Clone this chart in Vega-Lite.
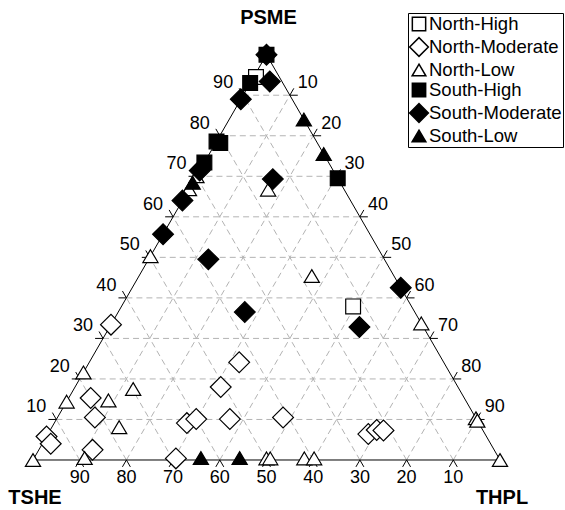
{
  "$schema": "https://vega.github.io/schema/vega-lite/v6.json",
  "width": 565,
  "height": 510,
  "autosize": {"type": "none"},
  "padding": 0,
  "background": "white",
  "config": {"view": {"stroke": null}, "font": "Liberation Sans"},
  "datasets": {
    "grid": [
      {"p1":10,"t1":0,"p2":10,"t2":90},{"p1":20,"t1":0,"p2":20,"t2":80},{"p1":30,"t1":0,"p2":30,"t2":70},
      {"p1":40,"t1":0,"p2":40,"t2":60},{"p1":50,"t1":0,"p2":50,"t2":50},{"p1":60,"t1":0,"p2":60,"t2":40},
      {"p1":70,"t1":0,"p2":70,"t2":30},{"p1":80,"t1":0,"p2":80,"t2":20},{"p1":90,"t1":0,"p2":90,"t2":10},
      {"p1":0,"t1":10,"p2":90,"t2":10},{"p1":0,"t1":20,"p2":80,"t2":20},{"p1":0,"t1":30,"p2":70,"t2":30},
      {"p1":0,"t1":40,"p2":60,"t2":40},{"p1":0,"t1":50,"p2":50,"t2":50},{"p1":0,"t1":60,"p2":40,"t2":60},
      {"p1":0,"t1":70,"p2":30,"t2":70},{"p1":0,"t1":80,"p2":20,"t2":80},{"p1":0,"t1":90,"p2":10,"t2":90},
      {"p1":0,"t1":90,"p2":90,"t2":0},{"p1":0,"t1":80,"p2":80,"t2":0},{"p1":0,"t1":70,"p2":70,"t2":0},
      {"p1":0,"t1":60,"p2":60,"t2":0},{"p1":0,"t1":50,"p2":50,"t2":0},{"p1":0,"t1":40,"p2":40,"t2":0},
      {"p1":0,"t1":30,"p2":30,"t2":0},{"p1":0,"t1":20,"p2":20,"t2":0},{"p1":0,"t1":10,"p2":10,"t2":0}
    ],
    "frame": [
      {"p1":0,"t1":0,"p2":0,"t2":100},{"p1":0,"t1":0,"p2":100,"t2":0},{"p1":0,"t1":100,"p2":100,"t2":0},
      {"p1":10,"t1":0,"p2":10,"t2":-1.7},{"p1":10,"t1":0,"p2":11.7,"t2":-1.7},
      {"p1":20,"t1":0,"p2":20,"t2":-1.7},{"p1":20,"t1":0,"p2":21.7,"t2":-1.7},
      {"p1":30,"t1":0,"p2":30,"t2":-1.7},{"p1":30,"t1":0,"p2":31.7,"t2":-1.7},
      {"p1":40,"t1":0,"p2":40,"t2":-1.7},{"p1":40,"t1":0,"p2":41.7,"t2":-1.7},
      {"p1":50,"t1":0,"p2":50,"t2":-1.7},{"p1":50,"t1":0,"p2":51.7,"t2":-1.7},
      {"p1":60,"t1":0,"p2":60,"t2":-1.7},{"p1":60,"t1":0,"p2":61.7,"t2":-1.7},
      {"p1":70,"t1":0,"p2":70,"t2":-1.7},{"p1":70,"t1":0,"p2":71.7,"t2":-1.7},
      {"p1":80,"t1":0,"p2":80,"t2":-1.7},{"p1":80,"t1":0,"p2":81.7,"t2":-1.7},
      {"p1":90,"t1":0,"p2":90,"t2":-1.7},{"p1":90,"t1":0,"p2":91.7,"t2":-1.7},
      {"p1":90,"t1":10,"p2":90,"t2":11.7},{"p1":90,"t1":10,"p2":91.7,"t2":10},
      {"p1":80,"t1":20,"p2":80,"t2":21.7},{"p1":80,"t1":20,"p2":81.7,"t2":20},
      {"p1":70,"t1":30,"p2":70,"t2":31.7},{"p1":70,"t1":30,"p2":71.7,"t2":30},
      {"p1":60,"t1":40,"p2":60,"t2":41.7},{"p1":60,"t1":40,"p2":61.7,"t2":40},
      {"p1":50,"t1":50,"p2":50,"t2":51.7},{"p1":50,"t1":50,"p2":51.7,"t2":50},
      {"p1":40,"t1":60,"p2":40,"t2":61.7},{"p1":40,"t1":60,"p2":41.7,"t2":60},
      {"p1":30,"t1":70,"p2":30,"t2":71.7},{"p1":30,"t1":70,"p2":31.7,"t2":70},
      {"p1":20,"t1":80,"p2":20,"t2":81.7},{"p1":20,"t1":80,"p2":21.7,"t2":80},
      {"p1":10,"t1":90,"p2":10,"t2":91.7},{"p1":10,"t1":90,"p2":11.7,"t2":90},
      {"p1":0,"t1":90,"p2":-1.7,"t2":90},{"p1":0,"t1":90,"p2":-1.7,"t2":91.7},
      {"p1":0,"t1":80,"p2":-1.7,"t2":80},{"p1":0,"t1":80,"p2":-1.7,"t2":81.7},
      {"p1":0,"t1":70,"p2":-1.7,"t2":70},{"p1":0,"t1":70,"p2":-1.7,"t2":71.7},
      {"p1":0,"t1":60,"p2":-1.7,"t2":60},{"p1":0,"t1":60,"p2":-1.7,"t2":61.7},
      {"p1":0,"t1":50,"p2":-1.7,"t2":50},{"p1":0,"t1":50,"p2":-1.7,"t2":51.7},
      {"p1":0,"t1":40,"p2":-1.7,"t2":40},{"p1":0,"t1":40,"p2":-1.7,"t2":41.7},
      {"p1":0,"t1":30,"p2":-1.7,"t2":30},{"p1":0,"t1":30,"p2":-1.7,"t2":31.7},
      {"p1":0,"t1":20,"p2":-1.7,"t2":20},{"p1":0,"t1":20,"p2":-1.7,"t2":21.7},
      {"p1":0,"t1":10,"p2":-1.7,"t2":10},{"p1":0,"t1":10,"p2":-1.7,"t2":11.7}
    ],
    "labLeft": [
      {"p":10,"t":0,"label":"10"},{"p":20,"t":0,"label":"20"},{"p":30,"t":0,"label":"30"},
      {"p":40,"t":0,"label":"40"},{"p":50,"t":0,"label":"50"},{"p":60,"t":0,"label":"60"},
      {"p":70,"t":0,"label":"70"},{"p":80,"t":0,"label":"80"},{"p":90,"t":0,"label":"90"}
    ],
    "labRight": [
      {"p":90,"t":10,"label":"10"},{"p":80,"t":20,"label":"20"},{"p":70,"t":30,"label":"30"},
      {"p":60,"t":40,"label":"40"},{"p":50,"t":50,"label":"50"},{"p":40,"t":60,"label":"60"},
      {"p":30,"t":70,"label":"70"},{"p":20,"t":80,"label":"80"},{"p":10,"t":90,"label":"90"}
    ],
    "labBottom": [
      {"p":0,"t":90,"label":"10"},{"p":0,"t":80,"label":"20"},{"p":0,"t":70,"label":"30"},
      {"p":0,"t":60,"label":"40"},{"p":0,"t":50,"label":"50"},{"p":0,"t":40,"label":"60"},
      {"p":0,"t":30,"label":"70"},{"p":0,"t":20,"label":"80"},{"p":0,"t":10,"label":"90"}
    ],
    "titleTop": [{"p":100,"t":0,"label":"PSME"}],
    "titleBottom": [{"p":0,"t":0,"label":"TSHE"},{"p":0,"t":100,"label":"THPL"}],
    "pts": [
      {"group":"North-High","psme":94.5,"thpl":0.5,"tshe":5},
      {"group":"North-High","psme":37.9,"thpl":49.6,"tshe":12.5},
      {"group":"North-Moderate","psme":33.4,"thpl":0,"tshe":66.6},
      {"group":"North-Moderate","psme":15.3,"thpl":4.7,"tshe":80},
      {"group":"North-Moderate","psme":10.5,"thpl":8,"tshe":81.5},
      {"group":"North-Moderate","psme":5.8,"thpl":0,"tshe":94.2},
      {"group":"North-Moderate","psme":4,"thpl":1.8,"tshe":94.2},
      {"group":"North-Moderate","psme":2.5,"thpl":11.5,"tshe":86},
      {"group":"North-Moderate","psme":24.1,"thpl":32.1,"tshe":43.8},
      {"group":"North-Moderate","psme":18,"thpl":31.2,"tshe":50.8},
      {"group":"North-Moderate","psme":9.1,"thpl":28.4,"tshe":62.5},
      {"group":"North-Moderate","psme":10.1,"thpl":29.9,"tshe":60},
      {"group":"North-Moderate","psme":10.1,"thpl":37.1,"tshe":52.8},
      {"group":"North-Moderate","psme":10.5,"thpl":48.3,"tshe":41.2},
      {"group":"North-Moderate","psme":0.4,"thpl":30.4,"tshe":69.2},
      {"group":"North-Moderate","psme":6.4,"thpl":68.6,"tshe":25},
      {"group":"North-Moderate","psme":7.4,"thpl":69.9,"tshe":22.7},
      {"group":"North-Moderate","psme":7.3,"thpl":71.4,"tshe":21.3},
      {"group":"North-Low","psme":70,"thpl":0,"tshe":30},
      {"group":"North-Low","psme":66.8,"thpl":0,"tshe":33.2},
      {"group":"North-Low","psme":66.7,"thpl":17,"tshe":16.3},
      {"group":"North-Low","psme":50.3,"thpl":0,"tshe":49.7},
      {"group":"North-Low","psme":45.4,"thpl":37,"tshe":17.6},
      {"group":"North-Low","psme":33.7,"thpl":66.3,"tshe":0},
      {"group":"North-Low","psme":21.6,"thpl":0,"tshe":78.4},
      {"group":"North-Low","psme":17.5,"thpl":12.7,"tshe":69.8},
      {"group":"North-Low","psme":14.7,"thpl":8.8,"tshe":76.5},
      {"group":"North-Low","psme":14.4,"thpl":0,"tshe":85.6},
      {"group":"North-Low","psme":8.1,"thpl":14.4,"tshe":77.5},
      {"group":"North-Low","psme":0,"thpl":0,"tshe":100},
      {"group":"North-Low","psme":0.5,"thpl":10.8,"tshe":88.7},
      {"group":"North-Low","psme":0.4,"thpl":49.8,"tshe":49.8},
      {"group":"North-Low","psme":0.4,"thpl":50.6,"tshe":49},
      {"group":"North-Low","psme":0.4,"thpl":57.9,"tshe":41.7},
      {"group":"North-Low","psme":0.4,"thpl":60,"tshe":39.6},
      {"group":"North-Low","psme":10.3,"thpl":89.7,"tshe":0},
      {"group":"North-Low","psme":9.7,"thpl":90.3,"tshe":0},
      {"group":"North-Low","psme":0,"thpl":100,"tshe":0},
      {"group":"South-High","psme":100,"thpl":0,"tshe":0},
      {"group":"South-High","psme":93,"thpl":0,"tshe":7},
      {"group":"South-High","psme":78.6,"thpl":0,"tshe":21.4},
      {"group":"South-High","psme":78.2,"thpl":1,"tshe":20.8},
      {"group":"South-High","psme":73.4,"thpl":0,"tshe":26.6},
      {"group":"South-High","psme":69.5,"thpl":30.5,"tshe":0},
      {"group":"South-Moderate","psme":100,"thpl":0,"tshe":0},
      {"group":"South-Moderate","psme":93.4,"thpl":4,"tshe":2.6},
      {"group":"South-Moderate","psme":89,"thpl":0,"tshe":11},
      {"group":"South-Moderate","psme":71.4,"thpl":0,"tshe":28.6},
      {"group":"South-Moderate","psme":64,"thpl":0,"tshe":36},
      {"group":"South-Moderate","psme":55.7,"thpl":0,"tshe":44.3},
      {"group":"South-Moderate","psme":69.3,"thpl":16.7,"tshe":14},
      {"group":"South-Moderate","psme":49.5,"thpl":12.8,"tshe":37.7},
      {"group":"South-Moderate","psme":36.5,"thpl":27.1,"tshe":36.4},
      {"group":"South-Moderate","psme":42.5,"thpl":57.5,"tshe":0},
      {"group":"South-Moderate","psme":32.8,"thpl":53.5,"tshe":13.7},
      {"group":"South-Low","psme":84,"thpl":16,"tshe":0},
      {"group":"South-Low","psme":75.5,"thpl":24.5,"tshe":0},
      {"group":"South-Low","psme":68.4,"thpl":0,"tshe":31.6},
      {"group":"South-Low","psme":0.5,"thpl":35.7,"tshe":63.8},
      {"group":"South-Low","psme":0.5,"thpl":44,"tshe":55.5}
    ]
  },
  "layer": [
    {
      "data": {"name": "grid"},
      "transform": [
        {"calculate": "datum.t1 + datum.p1 / 2", "as": "xa"},
        {"calculate": "datum.p1 * 0.8660254", "as": "ya"},
        {"calculate": "datum.t2 + datum.p2 / 2", "as": "xb"},
        {"calculate": "datum.p2 * 0.8660254", "as": "yb"}
      ],
      "mark": {"type": "rule", "stroke": "#b3b3b3", "strokeWidth": 1, "strokeDash": [6, 4]},
      "encoding": {
        "x": {"field": "xa", "type": "quantitative", "scale": {"domain": [-7.066, 113.92], "zero": false, "nice": false}, "axis": null},
        "y": {"field": "ya", "type": "quantitative", "scale": {"domain": [-10.684, 98.29], "zero": false, "nice": false}, "axis": null},
        "x2": {"field": "xb"},
        "y2": {"field": "yb"}
      }
    },
    {
      "data": {"name": "frame"},
      "transform": [
        {"calculate": "datum.t1 + datum.p1 / 2", "as": "xa"},
        {"calculate": "datum.p1 * 0.8660254", "as": "ya"},
        {"calculate": "datum.t2 + datum.p2 / 2", "as": "xb"},
        {"calculate": "datum.p2 * 0.8660254", "as": "yb"}
      ],
      "mark": {"type": "rule", "stroke": "black", "strokeWidth": 1},
      "encoding": {
        "x": {"field": "xa", "type": "quantitative", "scale": {"domain": [-7.066, 113.92], "zero": false, "nice": false}, "axis": null},
        "y": {"field": "ya", "type": "quantitative", "scale": {"domain": [-10.684, 98.29], "zero": false, "nice": false}, "axis": null},
        "x2": {"field": "xb"},
        "y2": {"field": "yb"}
      }
    },
    {
      "data": {"name": "labLeft"},
      "transform": [
        {"calculate": "datum.t + datum.p / 2", "as": "x"},
        {"calculate": "datum.p * 0.8660254", "as": "y"}
      ],
      "mark": {"type": "text", "align": "right", "baseline": "middle", "dx": -10, "dy": -12, "fontSize": 18, "font": "Liberation Sans", "color": "black"},
      "encoding": {
        "x": {"field": "x", "type": "quantitative", "axis": null},
        "y": {"field": "y", "type": "quantitative", "axis": null},
        "text": {"field": "label"}
      }
    },
    {
      "data": {"name": "labRight"},
      "transform": [
        {"calculate": "datum.t + datum.p / 2", "as": "x"},
        {"calculate": "datum.p * 0.8660254", "as": "y"}
      ],
      "mark": {"type": "text", "align": "left", "baseline": "middle", "dx": 8, "dy": -12, "fontSize": 18, "font": "Liberation Sans", "color": "black"},
      "encoding": {
        "x": {"field": "x", "type": "quantitative", "axis": null},
        "y": {"field": "y", "type": "quantitative", "axis": null},
        "text": {"field": "label"}
      }
    },
    {
      "data": {"name": "labBottom"},
      "transform": [
        {"calculate": "datum.t + datum.p / 2", "as": "x"},
        {"calculate": "datum.p * 0.8660254", "as": "y"}
      ],
      "mark": {"type": "text", "align": "center", "baseline": "middle", "dy": 18, "fontSize": 18, "font": "Liberation Sans", "color": "black"},
      "encoding": {
        "x": {"field": "x", "type": "quantitative", "axis": null},
        "y": {"field": "y", "type": "quantitative", "axis": null},
        "text": {"field": "label"}
      }
    },
    {
      "data": {"name": "titleTop"},
      "transform": [
        {"calculate": "datum.t + datum.p / 2", "as": "x"},
        {"calculate": "datum.p * 0.8660254", "as": "y"}
      ],
      "mark": {"type": "text", "align": "center", "baseline": "middle", "dx": 2, "dy": -37, "fontSize": 20, "fontWeight": "bold", "font": "Liberation Sans", "color": "black"},
      "encoding": {
        "x": {"field": "x", "type": "quantitative", "axis": null},
        "y": {"field": "y", "type": "quantitative", "axis": null},
        "text": {"field": "label"}
      }
    },
    {
      "data": {"name": "titleBottom"},
      "transform": [
        {"calculate": "datum.t + datum.p / 2", "as": "x"},
        {"calculate": "datum.p * 0.8660254", "as": "y"}
      ],
      "mark": {"type": "text", "align": "center", "baseline": "middle", "dx": 2, "dy": 38, "fontSize": 20, "fontWeight": "bold", "font": "Liberation Sans", "color": "black"},
      "encoding": {
        "x": {"field": "x", "type": "quantitative", "axis": null},
        "y": {"field": "y", "type": "quantitative", "axis": null},
        "text": {"field": "label"}
      }
    },
    {
      "data": {"name": "pts"},
      "transform": [
        {"calculate": "datum.thpl + datum.psme / 2", "as": "x"},
        {"calculate": "datum.psme * 0.8660254", "as": "y"}
      ],
      "mark": {"type": "point", "filled": true, "stroke": "black", "strokeWidth": 1.2, "opacity": 1, "size": 400},
      "encoding": {
        "x": {"field": "x", "type": "quantitative", "axis": null},
        "y": {"field": "y", "type": "quantitative", "axis": null},
        "shape": {
          "field": "group", "type": "nominal",
          "scale": {"domain": ["North-High","North-Moderate","North-Low","South-High","South-Moderate","South-Low"],
                    "range": ["M-0.74,-0.74L0.74,-0.74L0.74,0.74L-0.74,0.74Z","M-1.04,0L0,-1.04L1.04,0L0,1.04Z","M0,-0.64L0.76,0.64L-0.76,0.64Z","M-0.74,-0.74L0.74,-0.74L0.74,0.74L-0.74,0.74Z","M-1.04,0L0,-1.04L1.04,0L0,1.04Z","M0,-0.64L0.76,0.64L-0.76,0.64Z"]},
          "legend": {
            "title": null, "orient": "none", "legendX": 408, "legendY": 13,
            "strokeColor": "black", "fillColor": "white", "padding": 1,
            "labelFont": "Liberation Sans", "labelFontSize": 18.5, "labelColor": "black", "labelOffset": 0,
            "symbolSize": 324, "symbolStrokeWidth": 1.5, "rowPadding": 0,
            "encode": {"symbols": {"update": {
              "fill": {"signal": "indexof(datum.value, 'South') === 0 ? '#4d0f4d' : '#ffffff'"},
              "stroke": {"value": "#4d0f4d"},
              "size": {"value": 324},
              "opacity": {"value": 1}
            }}}
          }
        },
        "fill": {
          "field": "group", "type": "nominal",
          "scale": {"domain": ["North-High","North-Moderate","North-Low","South-High","South-Moderate","South-Low"], "range": ["#ffffff","#ffffff","#ffffff","#000000","#000000","#000000"]}
        }
      }
    }
  ]
}
